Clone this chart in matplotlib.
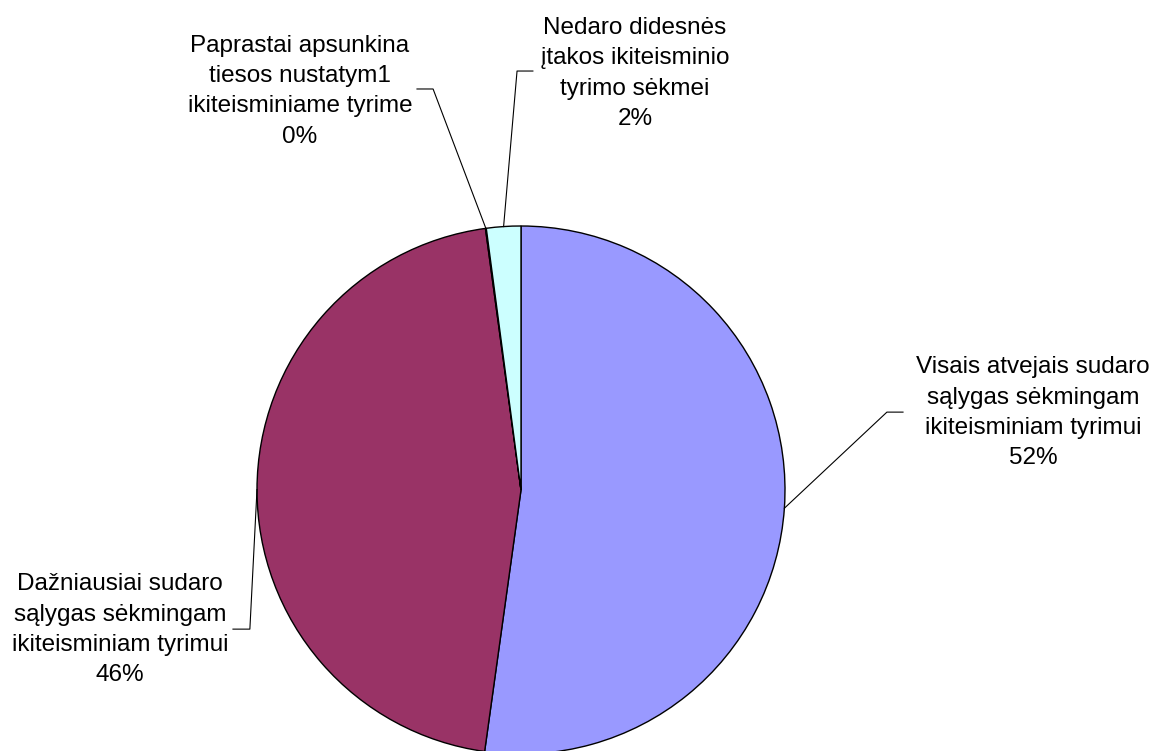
import matplotlib.pyplot as plt
import numpy as np

# ---- data ----
labels = [
    'Visais atvejais sudaro\nsąlygas sėkmingam\nikiteisminiam tyrimui',
    'Dažniausiai sudaro\nsąlygas sėkmingam\nikiteisminiam tyrimui',
    'Paprastai apsunkina\ntiesos nustatym1\nikiteisminiame tyrime',
    'Nedaro didesnės\nįtakos ikiteisminio\ntyrimo sėkmei',
]
values = [52.2, 45.65, 0.05, 2.1]
colors = ['#9999FF', '#993366', '#FFFFCC', '#CCFFFF']

# label layout (pie radius units): elbow, line end, text centre
elbows = [(1.386, 0.295), (-1.027, -0.527), (-0.333, 1.519), (-0.015, 1.587)]
ends = [(1.447, 0.295), (-1.091, -0.527), (-0.394, 1.519), (0.045, 1.587)]
text_pos = [(1.939, 0.292), (-1.519, -0.530), (-0.837, 1.511), (0.432, 1.578)]

plt.rcParams['font.family'] = ['Liberation Sans', 'DejaVu Sans']

fig = plt.figure(figsize=(11.5, 7.51), dpi=100)
ax = fig.add_axes([0, 0, 1, 1])

wedges, _ = ax.pie(values, colors=colors, startangle=90, counterclock=False,
                   radius=1.0, wedgeprops=dict(edgecolor='black', linewidth=1.0))

total = sum(values)
for w, v, lab, el, en, tp in zip(wedges, values, labels, elbows, ends, text_pos):
    mid = np.deg2rad((w.theta1 + w.theta2) / 2)
    ax_pt = (np.cos(mid), np.sin(mid))
    ax.plot([ax_pt[0], el[0], en[0]], [ax_pt[1], el[1], en[1]],
            color='black', linewidth=0.8)
    pct = round(v / total * 100)
    ax.text(tp[0], tp[1], lab + '\n%d%%' % pct, ha='center', va='center',
            fontsize=17.5, linespacing=1.49, color='black')

ax.set_xlim(-521 / 264, 629 / 264)
ax.set_ylim((490 - 751) / 264, 490 / 264)
ax.set_aspect('auto')
ax.axis('off')

fig.savefig('out.png', dpi=100)
